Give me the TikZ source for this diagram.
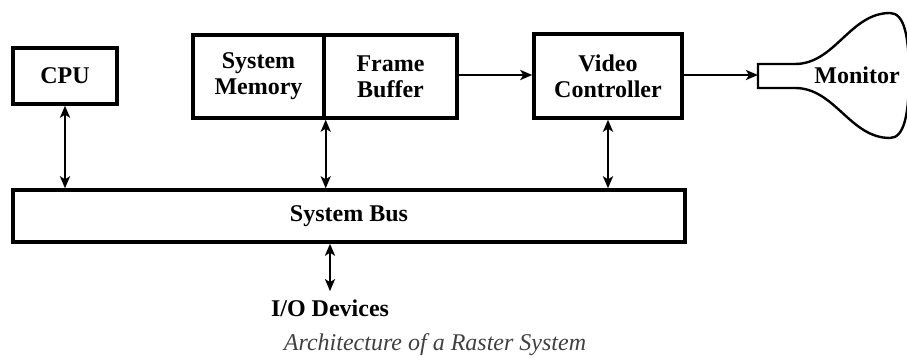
\documentclass[tikz,border=0pt]{standalone}
\usepackage{fontspec}
\setmainfont{Liberation Serif}
\usetikzlibrary{arrows.meta}
\tikzset{
  unit/.style={draw, line width=1.7pt, font=\bfseries\fontsize{12}{13}\selectfont, align=center, inner sep=0pt},
  label/.style={font=\bfseries\fontsize{12}{13}\selectfont, inner sep=0pt},
  link/.style={line width=1.2pt, {Stealth[length=6pt,width=5pt,inset=1.5pt]}-{Stealth[length=6pt,width=5pt,inset=1.5pt]}},
  flow/.style={line width=1.2pt, -{Stealth[length=6pt,width=5pt,inset=1.5pt]}},
}
\begin{document}
\begin{tikzpicture}[x=0.5pt,y=-0.5pt]
      \useasboundingbox (0,0) rectangle (907,358);
      \node[unit, minimum width=52pt, minimum height=28pt] (cpu) at (65,76) {CPU};
      \node[unit, minimum width=65.5pt, minimum height=41.5pt] (mem) at (258.5,76.5) {System\\Memory};
      \node[unit, minimum width=66.5pt, minimum height=41.5pt] (fb) at (390.5,76.5) {Frame\\Buffer};
      \node[unit, minimum width=74pt, minimum height=42pt] (vc) at (608,76) {Video\\Controller};
      \node[unit, minimum width=336pt, minimum height=26pt] (bus) at (349,216) {System Bus};
      \node[label, inner sep=4pt] (io) at (330,308) {I/O Devices};
      \node[font=\itshape\fontsize{12}{13}\selectfont, text=black!75, inner sep=0pt] (cap) at (435,345) {Architecture of a Raster System};
      % monitor tube
      \draw[line width=1.2pt]
        (758,64) -- (758,88) -- (795,88)
        .. controls (835,88) and (850,138) .. (890,138)
        .. controls (904,138) and (909,115) .. (909,75)
        .. controls (909,35) and (904,13) .. (890,13)
        .. controls (850,13) and (835,64) .. (795,64) -- cycle;
      \coordinate (neck) at (758,75);
      \node[label] (mon) at (857,75) {Monitor};
      \begin{scope}
        \draw[link] (cpu.south) -- (cpu.south |- bus.north);
        \draw[link] (mem.south east) -- (mem.south east |- bus.north);
        \draw[link] (vc.south) -- (vc.south |- bus.north);
        \draw[link] (bus.south -| io.north) -- (io.north);
        \draw[flow] (fb.east |- 0,75) -- (vc.west |- 0,75);
        \draw[flow] (vc.east |- neck) -- (neck);
      \end{scope}
    \end{tikzpicture}
\end{document}
